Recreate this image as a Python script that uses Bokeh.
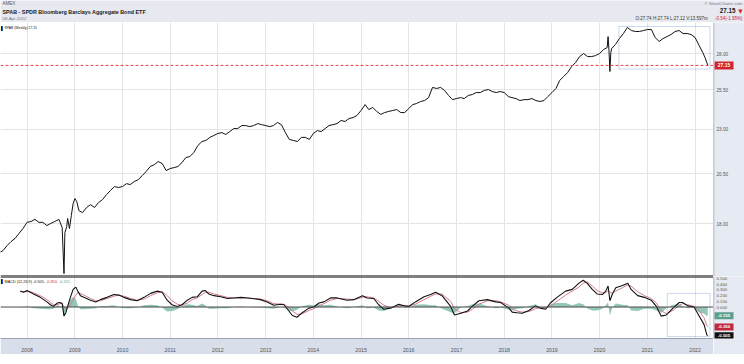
import pandas as pd
from bokeh.plotting import figure
from bokeh.layouts import column, row
from bokeh.models import (Range1d, FixedTicker, DatetimeTickFormatter,
                          Span, Label, BoxAnnotation, Grid, Spacer, ColumnDataSource)
from bokeh.core.properties import value
from bokeh.embed import file_html
from bokeh.resources import INLINE

# ---------------- data ----------------
price_dates = [
    "2007-06-01", "2007-07-01", "2007-08-01", "2007-09-01", "2007-10-01", "2007-11-01", "2007-12-01",
    "2008-01-01", "2008-02-01", "2008-03-01", "2008-04-01", "2008-05-01", "2008-06-01", "2008-07-01",
    "2008-08-01", "2008-09-01", "2008-09-26", "2008-10-10", "2008-10-17", "2008-10-31", "2008-11-07",
    "2008-11-21", "2008-12-05", "2008-12-19",
    "2009-01-02", "2009-01-16", "2009-02-01", "2009-03-01", "2009-04-01", "2009-05-01", "2009-06-01",
    "2009-07-01", "2009-08-01", "2009-09-01", "2009-10-01", "2009-11-01", "2009-12-01",
    "2010-01-01", "2010-02-01", "2010-03-01", "2010-04-01", "2010-05-01", "2010-06-01",
    "2010-07-01", "2010-08-01", "2010-09-01", "2010-10-01", "2010-11-01", "2010-12-01",
    "2011-01-01", "2011-02-01", "2011-03-01", "2011-04-01", "2011-05-01", "2011-06-01",
    "2011-07-01", "2011-08-01", "2011-09-01", "2011-10-01", "2011-11-01", "2011-12-01",
    "2012-01-01", "2012-02-01", "2012-03-01", "2012-04-01", "2012-05-01", "2012-06-01",
    "2012-07-01", "2012-08-01", "2012-09-01", "2012-10-01", "2012-11-01", "2012-12-01",
    "2013-01-01", "2013-02-01", "2013-03-01", "2013-04-01", "2013-05-01", "2013-06-01",
    "2013-07-01", "2013-08-01", "2013-09-01", "2013-10-01", "2013-11-01", "2013-12-01",
    "2014-01-01", "2014-02-01", "2014-03-01", "2014-04-01", "2014-05-01", "2014-06-01",
    "2014-07-01", "2014-08-01", "2014-09-01", "2014-10-01", "2014-11-01", "2014-12-01",
    "2015-01-01", "2015-02-01", "2015-03-01", "2015-04-01", "2015-05-01", "2015-06-01",
    "2015-07-01", "2015-08-01", "2015-09-01", "2015-10-01", "2015-11-01", "2015-12-01",
    "2016-01-01", "2016-02-01", "2016-03-01", "2016-04-01", "2016-05-01", "2016-06-01",
    "2016-07-01", "2016-08-01", "2016-09-01", "2016-10-01", "2016-11-01", "2016-12-01",
    "2017-01-01", "2017-02-01", "2017-03-01", "2017-04-01", "2017-05-01", "2017-06-01",
    "2017-07-01", "2017-08-01", "2017-09-01", "2017-10-01", "2017-11-01", "2017-12-01",
    "2018-01-01", "2018-02-01", "2018-03-01", "2018-04-01", "2018-05-01", "2018-06-01",
    "2018-07-01", "2018-08-01", "2018-09-01", "2018-10-01", "2018-11-01", "2018-12-01",
    "2019-01-01", "2019-02-01", "2019-03-01", "2019-04-01", "2019-05-01", "2019-06-01",
    "2019-07-01", "2019-08-01", "2019-09-01", "2019-10-01", "2019-11-01", "2019-12-01",
    "2020-01-01", "2020-02-01", "2020-02-28", "2020-03-06", "2020-03-13", "2020-03-20",
    "2020-03-27", "2020-04-03", "2020-05-01", "2020-06-01", "2020-07-01", "2020-08-01",
    "2020-09-01", "2020-10-01", "2020-11-01", "2020-12-01",
    "2021-01-01", "2021-02-01", "2021-03-01", "2021-04-01", "2021-05-01", "2021-06-01",
    "2021-07-01", "2021-08-01", "2021-09-01", "2021-10-01", "2021-11-01", "2021-12-01",
    "2022-01-01", "2022-02-01", "2022-03-01", "2022-03-18", "2022-04-01", "2022-04-08",
]
price_vals = [
    16.69, 16.78, 17.00, 17.18, 17.32, 17.55, 17.77,
    18.06, 18.10, 18.20, 18.06, 18.06, 17.91, 18.01,
    18.10, 18.20, 17.82, 15.81, 17.59, 17.86, 18.24,
    17.77, 18.38, 18.96,
    19.21, 19.06, 18.62, 18.52, 18.77, 18.91, 18.77,
    19.01, 19.16, 19.41, 19.62, 19.82, 19.77,
    19.82, 19.97, 19.92, 20.08, 20.18, 20.39,
    20.61, 20.88, 20.98, 21.15, 21.04, 20.66,
    20.77, 20.82, 20.88, 21.09, 21.37, 21.43,
    21.65, 22.05, 22.28, 22.34, 22.52, 22.63,
    22.75, 22.80, 22.69, 22.86, 23.04, 23.04,
    23.22, 23.22, 23.16, 23.22, 23.34, 23.28,
    23.22, 23.16, 23.22, 23.41, 23.28, 22.80,
    22.40, 22.34, 22.28, 22.52, 22.52, 22.40,
    22.75, 22.92, 22.86, 23.04, 23.22, 23.28,
    23.34, 23.53, 23.47, 23.65, 23.71, 23.84,
    24.15, 24.52, 24.21, 24.34, 24.09, 23.90,
    24.02, 24.09, 24.15, 24.21, 24.02, 24.02,
    24.27, 24.52, 24.59, 24.72, 24.78, 24.97,
    25.64, 25.57, 25.64, 25.44, 25.11, 24.84,
    24.91, 24.97, 24.91, 25.11, 25.17, 25.30,
    25.30, 25.44, 25.50, 25.37, 25.30, 25.37,
    25.30, 25.04, 24.97, 24.91, 24.78, 24.84,
    24.84, 24.91, 24.78, 24.72, 24.78, 25.04,
    25.30, 25.57, 26.10, 26.38, 26.65, 27.07,
    27.35, 27.78, 28.00, 27.78, 27.78, 27.85,
    28.00, 28.29, 28.44, 29.26, 28.22, 26.72,
    28.07, 28.37, 28.66, 29.11, 29.49, 29.96,
    29.72, 29.65, 29.65, 29.72,
    29.80, 29.80, 29.19, 28.89, 29.11, 29.26,
    29.42, 29.65, 29.72, 29.49, 29.49, 29.42,
    29.19, 28.59, 28.07, 27.71, 27.35, 27.15,
]

macd_dates = [
    "2007-11-10", "2007-12-05", "2008-01-01", "2008-01-26", "2008-02-20", "2008-04-12",
    "2008-06-02", "2008-06-28", "2008-07-23", "2008-08-18", "2008-09-09", "2008-09-26",
    "2008-10-10", "2008-10-24", "2008-11-07", "2008-11-28", "2008-12-19", "2009-01-09",
    "2009-01-23", "2009-02-13", "2009-03-11", "2009-05-01", "2009-06-10", "2009-07-16",
    "2009-09-05", "2009-10-27", "2009-12-03", "2010-01-12", "2010-03-04", "2010-04-24",
    "2010-06-14", "2010-08-04", "2010-09-24", "2010-10-31", "2010-12-09", "2011-01-15",
    "2011-02-24", "2011-04-02", "2011-05-12", "2011-06-18", "2011-07-27", "2011-09-02",
    "2011-09-27", "2011-10-23", "2011-12-02", "2012-01-23", "2012-03-14", "2012-05-01",
    "2012-06-24", "2012-08-15", "2012-11-22", "2013-01-12", "2013-03-04", "2013-04-24",
    "2013-05-20", "2013-06-28", "2013-07-24", "2013-08-29", "2013-10-08", "2013-11-28",
    "2014-01-04", "2014-02-13", "2014-03-22", "2014-05-12", "2014-07-02", "2014-09-16",
    "2014-11-06", "2015-01-12", "2015-02-17", "2015-04-08", "2015-05-16", "2015-06-25",
    "2015-08-15", "2015-10-16", "2015-11-25", "2016-01-01", "2016-02-21", "2016-04-27",
    "2016-06-17", "2016-07-24", "2016-09-12", "2016-11-17", "2016-12-16", "2017-02-03",
    "2017-03-26", "2017-05-01", "2017-06-21", "2017-08-26", "2017-10-27", "2017-12-05",
    "2018-02-06", "2018-03-03", "2018-04-09", "2018-05-19", "2018-07-09", "2018-08-29",
    "2018-10-05", "2018-11-14", "2018-12-20", "2019-02-09", "2019-04-16", "2019-06-06",
    "2019-07-27", "2019-08-29", "2019-09-27", "2019-11-06", "2019-12-13", "2020-01-22",
    "2020-02-17", "2020-03-06", "2020-03-20", "2020-04-08", "2020-05-04", "2020-06-24",
    "2020-08-04", "2020-08-29", "2020-10-19", "2020-12-09", "2021-01-30", "2021-03-11",
    "2021-04-16", "2021-05-26", "2021-07-16", "2021-09-02", "2021-09-27", "2021-11-06",
    "2021-12-24", "2022-01-30", "2022-03-11", "2022-04-01", "2022-04-08",
]
macd_vals = [
    0.28, 0.26, 0.29, 0.26, 0.23, 0.17,
    0.09, 0.04, 0.01, 0.07, 0.08, 0.06,
    -0.16, -0.10, 0.01, 0.17, 0.31, 0.35,
    0.28, 0.20, 0.17, 0.12, 0.09, 0.13,
    0.17, 0.22, 0.21, 0.17, 0.13, 0.11,
    0.17, 0.24, 0.28, 0.26, 0.12, 0.04,
    0.01, 0.04, 0.12, 0.17, 0.18, 0.28,
    0.29, 0.23, 0.20, 0.18, 0.15, 0.16,
    0.17, 0.16, 0.13, 0.09, 0.03, 0.05,
    0.04, -0.07, -0.15, -0.18, -0.10, -0.02,
    0.00, 0.07, 0.09, 0.16, 0.16, 0.12,
    0.13, 0.20, 0.16, 0.15, 0.04, -0.04,
    -0.02, 0.05, 0.02, 0.01, 0.09, 0.18,
    0.22, 0.26, 0.20, 0.01, -0.14, -0.11,
    -0.07, 0.01, 0.11, 0.13, 0.09, 0.08,
    -0.02, -0.09, -0.10, -0.11, -0.06, 0.02,
    -0.02, -0.04, 0.07, 0.17, 0.28, 0.31,
    0.42, 0.47, 0.42, 0.31, 0.23, 0.22,
    0.28, 0.37, 0.11, 0.23, 0.34, 0.38,
    0.42, 0.31, 0.20, 0.17, 0.12, 0.01,
    -0.16, -0.14, -0.02, 0.08, 0.08, 0.02,
    0.00, -0.15, -0.31, -0.49, -0.505,
]
signal_vals = [
    0.27, 0.27, 0.27, 0.27, 0.25, 0.20,
    0.13, 0.08, 0.04, 0.04, 0.06, 0.06,
    0.00, -0.03, -0.02, 0.04, 0.13, 0.21,
    0.25, 0.24, 0.21, 0.15, 0.11, 0.11,
    0.15, 0.19, 0.21, 0.19, 0.15, 0.12,
    0.14, 0.20, 0.25, 0.27, 0.20, 0.11,
    0.05, 0.03, 0.07, 0.13, 0.16, 0.22,
    0.26, 0.26, 0.23, 0.20, 0.17, 0.16,
    0.16, 0.16, 0.14, 0.11, 0.06, 0.05,
    0.05, -0.01, -0.07, -0.13, -0.12, -0.06,
    -0.03, 0.02, 0.06, 0.12, 0.15, 0.14,
    0.13, 0.17, 0.18, 0.16, 0.10, 0.03,
    -0.01, 0.02, 0.03, 0.02, 0.05, 0.13,
    0.19, 0.23, 0.23, 0.10, -0.03, -0.10,
    -0.09, -0.04, 0.05, 0.11, 0.11, 0.09,
    0.03, -0.03, -0.07, -0.09, -0.08, -0.03,
    -0.01, -0.02, 0.02, 0.10, 0.21, 0.28,
    0.35, 0.42, 0.44, 0.37, 0.29, 0.25,
    0.25, 0.29, 0.26, 0.24, 0.28, 0.34,
    0.39, 0.37, 0.27, 0.20, 0.15, 0.07,
    -0.06, -0.12, -0.06, 0.03, 0.06, 0.04,
    0.01, -0.06, -0.19, -0.33, -0.350,
]

year_ticks = list(range(2008, 2023))
price_ticks = [18.0, 20.5, 23.0, 25.5, 28.0]
macd_ticks = [0.0, 0.1, 0.2, 0.3, 0.4, 0.5]

symbol_line = "SPAB - SPDR Bloomberg Barclays Aggregate Bond ETF"
exchange = "AMEX"
as_of = "08-Apr-2022"
last_close = 27.15
ohlcv_text = "O:27.74  H:27.74  L:27.12  V:13.597m"
change_text = "-0.54(-1.95%)"
macd_last, signal_last, hist_last = -0.505, -0.350, -0.155

# annotation boxes drawn on the original chart
main_box = ("2020-05-28", "2022-04-25", 26.89, 30.04)
macd_box = ("2021-06-02", "2022-04-25", -0.52, 0.24)

# ---------------- styling ----------------
FONT = "Liberation Sans"
W = 744
AXIS_W = 31
PLOT_W = W - AXIS_W
HDR_H, MAIN_H, MACD_H, XAX_H, FOOT_H = 22, 254, 67, 11, 10
HDR_BG = "#e6e9f0"
PANEL_BG = "#e6eaf2"
BAND_BG = "#d9dfea"
GRID = "#e4e4e4"
RED = "#d3242c"
TEAL = "#5a9e8d"
HIST = "#8cc4b5"
SIGNAL = "#d27c89"
BOX = "#4f7fbf"
AX = "#9aa3b5"
LBL = "#555555"


def ms(d):
    return pd.Timestamp(d).value / 1e6


x_start, x_end = ms("2007-06-12"), ms("2022-05-22")
year_ms = [ms(f"{y}-01-01") for y in year_ticks]
P_LO, P_HI = 15.69, 30.35
M_LO, M_HI = -0.554, 0.537


def lab(fig, x, y, text, size, color="#222222", bold=False, align="left", font=FONT, **kw):
    l = Label(x=x, y=y, text=text, text_font=font, text_font_size=f"{size}px", text_color=color,
              text_font_style="bold" if bold else "normal", text_align=align,
              text_baseline="middle", **kw)
    fig.add_layout(l)
    return l


def bare(fig):
    fig.xgrid.visible = False
    fig.ygrid.visible = False


# ---------------- header ----------------
hdr = figure(width=W, height=HDR_H, x_range=Range1d(0, W), y_range=Range1d(0, HDR_H),
             toolbar_location=None, output_backend="svg", x_axis_location=None,
             y_axis_location=None, min_border=0, outline_line_color=None,
             background_fill_color=HDR_BG, border_fill_color=HDR_BG)
bare(hdr)
lab(hdr, 2, 18.6, exchange, 4.5, "#555555")
lab(hdr, 2, 11.0, symbol_line, 5.4, "#1a1a1a", bold=True)
lab(hdr, 2, 3.7, as_of, 4.3, "#777777")
lab(hdr, 742, 18.6, "\u00a9 StockCharts.com", 4.4, "#777777", align="right")
lab(hdr, 735, 12.0, f"{last_close:.2f}", 6.3, "#1a1a1a", bold=True, align="right")
lab(hdr, 742, 12.0, "\u25bc", 5.6, RED, align="right", font="DejaVu Sans")
lab(hdr, 711, 3.7, ohlcv_text, 4.5, "#333333", align="right")
lab(hdr, 742, 3.7, change_text, 4.5, RED, align="right")

# ---------------- price panel ----------------
psrc = ColumnDataSource(dict(date=pd.to_datetime(price_dates), price=price_vals))
xr = Range1d(start=x_start, end=x_end)
pyr = Range1d(P_LO, P_HI)

main = figure(width=PLOT_W, height=MAIN_H, x_range=xr, y_range=pyr,
              y_axis_type="log", x_axis_type="datetime", x_axis_location=None,
              y_axis_location=None, toolbar_location=None, output_backend="svg",
              min_border=0, outline_line_color=None,
              background_fill_color="white", border_fill_color=PANEL_BG)
bare(main)
main.add_layout(Grid(dimension=0, ticker=FixedTicker(ticks=year_ms, minor_ticks=[]),
                     grid_line_color=GRID))
main.add_layout(Grid(dimension=1, ticker=FixedTicker(ticks=price_ticks, minor_ticks=[]),
                     grid_line_color=GRID))
main.add_layout(Span(location=last_close, dimension="width", line_color="#e4474b",
                     line_dash="3 2", line_width=1))
main.line("date", "price", source=psrc, line_color="#111111", line_width=1)
main.add_layout(BoxAnnotation(left=ms(main_box[0]), right=ms(main_box[1]),
                              bottom=main_box[2], top=main_box[3], fill_alpha=0,
                              line_color=BOX, line_width=1))
main.add_layout(Span(location=P_LO, dimension="width", line_color="#000000", line_width=2))
lab(main, x_start, P_HI, "\u258c", 4.2, "#000000", font="DejaVu Sans", x_offset=0.5, y_offset=-5.7)
lab(main, x_start, P_HI, f"SPAB (Weekly) {last_close:.2f}", 3.4, "#111111", x_offset=4, y_offset=-5.7)

# right-hand price scale panel (shares the log y scale)
main_ax = figure(width=AXIS_W, height=MAIN_H, x_range=Range1d(0, AXIS_W), y_range=pyr,
                 y_axis_type="log", x_axis_location=None, y_axis_location=None,
                 toolbar_location=None, output_backend="svg", min_border=0,
                 outline_line_color=None, background_fill_color=PANEL_BG,
                 border_fill_color=PANEL_BG)
bare(main_ax)
main_ax.add_layout(Span(location=0, dimension="height", line_color=AX, line_width=1.5))
main_ax.text(x=3, y=price_ticks, text=[f"{t:.2f}" for t in price_ticks],
             text_font=value(FONT), text_font_size="4.6px", text_color=LBL,
             text_baseline="middle", text_align="left")
main_ax.rect(x=10.5, y=[last_close], width=19, height=8, height_units="screen",
             fill_color=RED, line_color=None)
main_ax.text(x=10.5, y=[last_close], text=[f"{last_close:.2f}"], text_font=value(FONT),
             text_font_size="5px", text_font_style="bold", text_color="white",
             text_baseline="middle", text_align="center")

# ---------------- MACD panel ----------------
hist_vals = [m - s for m, s in zip(macd_vals, signal_vals)]
msrc = ColumnDataSource(dict(date=pd.to_datetime(macd_dates), macd=macd_vals,
                             signal=signal_vals, hist=hist_vals))
myr = Range1d(M_LO, M_HI)

macd = figure(width=PLOT_W, height=MACD_H + XAX_H, x_range=xr, y_range=myr,
              x_axis_type="datetime", y_axis_location=None, toolbar_location=None,
              output_backend="svg", min_border_left=0, min_border_top=0, min_border_right=0,
              min_border_bottom=XAX_H, outline_line_color=None,
              background_fill_color="white", border_fill_color=BAND_BG)
xt = FixedTicker(ticks=year_ms, minor_ticks=[])
macd.xaxis.ticker = xt
macd.xgrid.ticker = xt
macd.xgrid.grid_line_color = GRID
macd.ygrid.visible = False
macd.xaxis.formatter = DatetimeTickFormatter(years="%Y", months="%Y", days="%Y")
macd.xaxis.major_label_text_font = FONT
macd.xaxis.major_label_text_font_size = "5.2px"
macd.xaxis.major_label_text_color = LBL
macd.xaxis.major_tick_line_color = None
macd.xaxis.minor_tick_line_color = None
macd.xaxis.axis_line_color = AX
macd.xaxis.major_label_standoff = 3

macd.varea(x="date", y1=0, y2="hist", source=msrc, fill_color=HIST, fill_alpha=0.95)
macd.add_layout(Span(location=0, dimension="width", line_color="#4a4a4a", line_width=1))
macd.line("date", "signal", source=msrc, line_color=SIGNAL, line_width=1)
macd.line("date", "macd", source=msrc, line_color="#111111", line_width=1.1)
macd.add_layout(BoxAnnotation(left=ms(macd_box[0]), right=ms(macd_box[1]),
                              bottom=macd_box[2], top=macd_box[3], fill_alpha=0,
                              line_color=BOX, line_width=1))
macd.add_layout(Span(location=M_HI, dimension="width", line_color="#000000", line_width=2))

lab(macd, x_start, M_HI, "\u258c", 4.2, "#000000", font="DejaVu Sans", x_offset=0.5, y_offset=-5)
lab(macd, x_start, M_HI, f"MACD (12,26,9) {macd_last:.3f},", 3.8, "#111111", x_offset=4, y_offset=-5)
lab(macd, x_start, M_HI, f"{signal_last:.3f},", 3.8, RED, x_offset=45.5, y_offset=-5)
lab(macd, x_start, M_HI, f"{hist_last:.3f}", 3.8, TEAL, x_offset=58.5, y_offset=-5)

# right-hand MACD scale panel
macd_ax = figure(width=AXIS_W, height=MACD_H + XAX_H, x_range=Range1d(0, AXIS_W), y_range=myr,
                 x_axis_location=None, y_axis_location=None, toolbar_location=None,
                 output_backend="svg", min_border_left=0, min_border_top=0,
                 min_border_right=0, min_border_bottom=XAX_H, outline_line_color=None,
                 background_fill_color=PANEL_BG, border_fill_color=PANEL_BG)
bare(macd_ax)
macd_ax.add_layout(Span(location=0, dimension="height", line_color=AX, line_width=1.5))
macd_ax.text(x=3, y=macd_ticks, text=[f"{t:.3f}" for t in macd_ticks],
             text_font=value(FONT), text_font_size="4.3px", text_color=LBL,
             text_baseline="middle", text_align="left")
badge_vals = [hist_last, signal_last, macd_last]
badge_cols = [TEAL, "#c0263e", "#111111"]
macd_ax.rect(x=10.5, y=badge_vals, width=19, height=7, height_units="screen",
             fill_color=badge_cols, line_color=None)
macd_ax.text(x=10.5, y=badge_vals, text=[f"{v:.3f}" for v in badge_vals], text_font=value(FONT),
             text_font_size="4.4px", text_font_style="bold", text_color="white",
             text_baseline="middle", text_align="center")

layout = column(hdr, row(main, main_ax), row(macd, macd_ax), Spacer(width=W, height=FOOT_H))

with open("out.html", "w") as f:
    f.write(file_html(layout, INLINE))
